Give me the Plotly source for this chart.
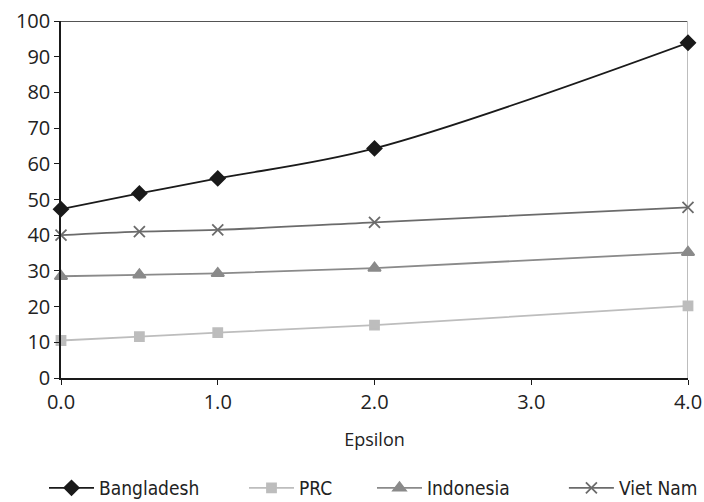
import plotly.graph_objects as go

epsilon = [0.0, 0.5, 1.0, 2.0, 4.0]
bangladesh = [47.3, 51.7, 55.9, 64.3, 93.9]
prc = [10.5, 11.6, 12.7, 14.8, 20.2]
indonesia = [28.5, 28.9, 29.3, 30.8, 35.2]
viet_nam = [40.0, 41.0, 41.5, 43.6, 47.8]

series = [
    ("Bangladesh", bangladesh, "#1a1a1a", "diamond", 11, "legend"),
    ("PRC", prc, "#bdbdbd", "square", 9, "legend2"),
    ("Indonesia", indonesia, "#8a8a8a", "triangle-up", 11, "legend3"),
    ("Viet Nam", viet_nam, "#6b6b6b", "x-thin", 11, "legend4"),
]

fig = go.Figure()
for name, vals, col, sym, sz, leg in series:
    fig.add_trace(go.Scatter(
        x=epsilon, y=vals, name=name, mode="lines+markers", legend=leg,
        line=dict(color=col, width=1.8, shape="spline", smoothing=1.0),
        marker=dict(symbol=sym, size=sz, color=col,
                    line=dict(color=col, width=1.8)),
        cliponaxis=False,
    ))

# top border and right grey frame line
fig.add_shape(type="line", x0=0, x1=4, y0=100, y1=100, xref="x", yref="y",
              line=dict(color="#1a1a1a", width=1.5), layer="below")
fig.add_shape(type="line", x0=4, x1=4, y0=0, y1=100, xref="x", yref="y",
              line=dict(color="#bdbdbd", width=2), layer="below")

leg_font = dict(family="DejaVu Sans Condensed, Roboto, sans-serif", size=19, color="#222222")


def legend_at(x):
    return dict(orientation="h", xref="container", yref="container",
                x=x, xanchor="left", y=0.0279, yanchor="middle",
                font=leg_font, itemwidth=45, bgcolor="rgba(0,0,0,0)")


fig.update_layout(
    width=704, height=502,
    margin=dict(l=61, r=16, t=21, b=124),
    plot_bgcolor="white", paper_bgcolor="white",
    font=dict(family="Open Sans, sans-serif", size=20, color="#222222"),
    showlegend=True,
    legend=legend_at(0.0625),
    legend2=legend_at(0.3466),
    legend3=legend_at(0.5284),
    legend4=legend_at(0.801),
    xaxis=dict(range=[0, 4], tickvals=[0, 1, 2, 3, 4], tickformat=".1f",
               showgrid=False, zeroline=False, showline=True, linecolor="#1a1a1a",
               linewidth=1.5, ticks="outside", ticklen=5, tickcolor="#1a1a1a",
               automargin=False, ticklabeloverflow="allow",
               title=dict(text="Epsilon", font=dict(size=18), standoff=20)),
    yaxis=dict(range=[0, 100], dtick=10, showgrid=False, zeroline=False,
               showline=True, linecolor="#1a1a1a", linewidth=1.5, automargin=False,
               ticklabeloverflow="allow",
               ticks="outside", ticklen=5, tickcolor="#1a1a1a"),
)

# page body has a default 8px margin; drop it so the 704x502 figure fills the window
fig.write_html("out.html", config={"displayModeBar": False},
               post_script="document.body.style.margin = '0';")
